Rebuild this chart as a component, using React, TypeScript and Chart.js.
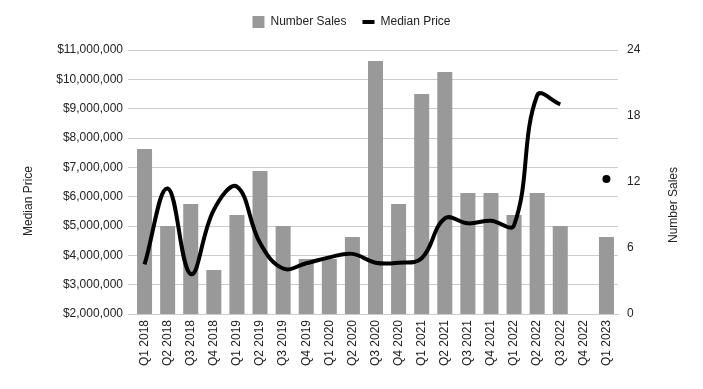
import React, { useEffect, useRef } from 'react';
import { Chart, registerables } from 'chart.js';

Chart.register(...registerables);

const quarters = [
  'Q1 2018', 'Q2 2018', 'Q3 2018', 'Q4 2018',
  'Q1 2019', 'Q2 2019', 'Q3 2019', 'Q4 2019',
  'Q1 2020', 'Q2 2020', 'Q3 2020', 'Q4 2020',
  'Q1 2021', 'Q2 2021', 'Q3 2021', 'Q4 2021',
  'Q1 2022', 'Q2 2022', 'Q3 2022', 'Q4 2022',
  'Q1 2023',
];

const numberSales: (number | null)[] = [
  15, 8, 10, 4,
  9, 13, 8, 5,
  5, 7, 23, 10,
  20, 22, 11, 11,
  9, 11, 8, null,
  7,
];

const medianPrice: (number | null)[] = [
  3690000, 6280000, 3360000, 5550000,
  6340000, 4420000, 3550000, 3730000,
  3930000, 4050000, 3750000, 3750000,
  3900000, 5260000, 5090000, 5180000,
  5030000, 9450000, 9150000, null,
  6600000,
];

const priceMin = 2000000;
const priceMax = 11000000;
const priceStep = 1000000;
const salesMin = 0;
const salesMax = 24;
const salesStep = 6;

const seriesNames = ['Number Sales', 'Median Price'];
const axisTitles = ['Median Price', 'Number Sales'];

const FONT = '"Liberation Sans", Arial, sans-serif';
const TEXT = '#222222';
const GRID = '#cccccc';

const legendHeightPlugin = {
  id: 'legendHeight',
  beforeLayout(chart: any) {
    const lg = chart.legend;
    if (lg && !lg.__patched) {
      const orig = lg.fit.bind(lg);
      lg.fit = function () {
        orig();
        this.height = 50;
      };
      lg.__patched = true;
    }
  },
};

const axisTitlePlugin = {
  id: 'axisTitles',
  afterDraw(chart: any) {
    const ctx = chart.ctx as CanvasRenderingContext2D;
    ctx.save();
    ctx.font = `12px ${FONT}`;
    ctx.fillStyle = TEXT;
    ctx.textAlign = 'center';
    ctx.textBaseline = 'middle';
    const drawRot = (text: string, x: number, y: number) => {
      ctx.save();
      ctx.translate(x, y);
      ctx.rotate(-Math.PI / 2);
      ctx.fillText(text, 0, 0);
      ctx.restore();
    };
    drawRot(axisTitles[0], 29, 201);
    drawRot(axisTitles[1], 674, 205);
    ctx.restore();
  },
};

export default function App() {
  const canvasRef = useRef<HTMLCanvasElement | null>(null);

  useEffect(() => {
    if (!canvasRef.current) return;
    const isIsolated = (i: number) =>
      medianPrice[i] != null &&
      (i === 0 || medianPrice[i - 1] == null) &&
      (i === medianPrice.length - 1 || medianPrice[i + 1] == null);

    const chart = new Chart(canvasRef.current, {
      type: 'bar',
      data: {
        labels: quarters,
        datasets: [
          {
            type: 'bar',
            label: seriesNames[0],
            data: numberSales,
            yAxisID: 'ySales',
            backgroundColor: '#999999',
            borderWidth: 0,
            barPercentage: 0.65,
            categoryPercentage: 1,
            order: 2,
          } as any,
          {
            type: 'line',
            label: seriesNames[1],
            data: medianPrice,
            yAxisID: 'yPrice',
            borderColor: '#000000',
            backgroundColor: '#000000',
            borderWidth: 4,
            tension: 0.4,
            spanGaps: false,
            pointRadius: (c: any) => (isIsolated(c.dataIndex) ? 4 : 0),
            pointHoverRadius: (c: any) => (isIsolated(c.dataIndex) ? 4 : 0),
            pointBorderWidth: 0,
            pointBackgroundColor: '#000000',
            fill: false,
            order: 1,
          } as any,
        ],
      },
      options: {
        responsive: false,
        animation: false,
        devicePixelRatio: 1,
        layout: { padding: 0 },
        plugins: {
          tooltip: { enabled: false },
          legend: {
            display: true,
            position: 'top',
            labels: {
              font: { family: FONT, size: 12 },
              color: TEXT,
              padding: 16,
              boxWidth: 12,
              boxHeight: 12,
              usePointStyle: true,
              pointStyleWidth: 12,
              sort: (a: any, b: any) => a.datasetIndex - b.datasetIndex,
              generateLabels: (ch: any) => {
                const items = (Chart.defaults.plugins.legend.labels as any).generateLabels(ch);
                return items.map((it: any) =>
                  it.datasetIndex === 1
                    ? { ...it, pointStyle: 'line', lineWidth: 4, strokeStyle: '#000000', fillStyle: '#000000' }
                    : { ...it, pointStyle: 'rect', lineWidth: 0, fillStyle: '#999999', strokeStyle: '#999999' }
                );
              },
            },
          },
        },
        scales: {
          x: {
            grid: { display: false, drawTicks: false },
            border: { display: true, color: GRID },
            ticks: {
              font: { family: FONT, size: 12 },
              color: TEXT,
              minRotation: 90,
              maxRotation: 90,
              autoSkip: false,
              padding: 6,
            },
            afterFit: (s: any) => {
              s.height = 75;
            },
          },
          yPrice: {
            type: 'linear',
            position: 'left',
            min: priceMin,
            max: priceMax,
            grid: { color: GRID, tickLength: 5, drawTicks: true },
            border: { display: false },
            ticks: {
              stepSize: priceStep,
              font: { family: FONT, size: 12 },
              color: TEXT,
              padding: 5,
              callback: (v: any) => '$' + Number(v).toLocaleString('en-US'),
            },
            afterFit: (s: any) => {
              s.width = 133;
            },
          },
          ySales: {
            type: 'linear',
            position: 'right',
            min: salesMin,
            max: salesMax,
            grid: { display: false, drawTicks: false },
            border: { display: false },
            ticks: {
              stepSize: salesStep,
              font: { family: FONT, size: 12 },
              color: TEXT,
              padding: 9,
            },
            afterFit: (s: any) => {
              s.width = 85;
            },
          },
        },
      },
      plugins: [legendHeightPlugin, axisTitlePlugin],
    } as any);

    return () => {
      chart.destroy();
    };
  }, []);

  return (
    <div style={{ position: 'absolute', left: 0, top: 0, width: 703, height: 389, background: '#ffffff' }}>
      <canvas ref={canvasRef} width={703} height={389} style={{ width: 703, height: 389, display: 'block' }} />
    </div>
  );
}
